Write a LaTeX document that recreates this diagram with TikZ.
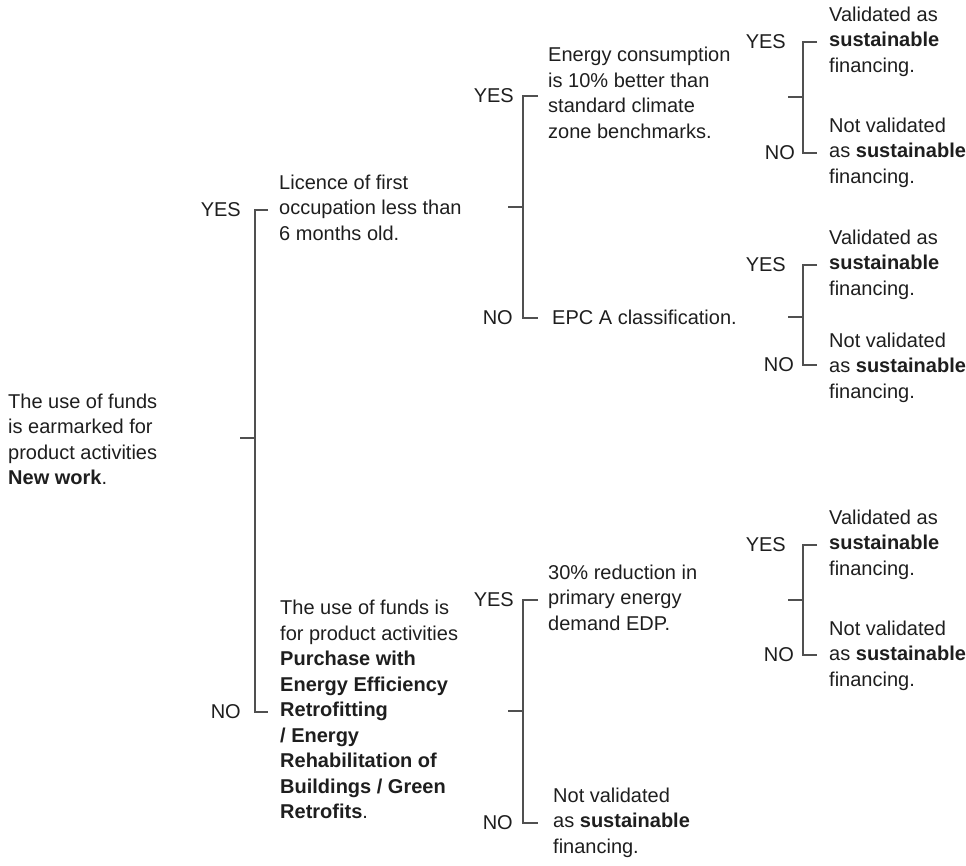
\documentclass[tikz,border=0pt]{standalone}
\usepackage{fontspec}
\setmainfont{Liberation Sans}
\definecolor{ink}{HTML}{1E1E1E}
\definecolor{linec}{HTML}{505050}
\begin{document}
\begin{tikzpicture}[x=1pt,y=-1pt,
  txt/.style={font=\fontsize{20}{25.5}\selectfont, text=ink, inner sep=0pt, align=left, anchor=west,
    execute at begin node=\strut, execute at end node=\strut},
  lab/.style={font=\fontsize{20}{25.5}\selectfont, text=ink, inner sep=0pt, anchor=east},
  conn/.style={draw=linec, line width=1.1pt}]
\useasboundingbox (0,0) rectangle (966,865);

% ---------- bracket coordinates ----------
% root
\coordinate (s0) at (240,438); \coordinate (m0) at (255,438);
\coordinate (t0) at (268,210); \coordinate (b0) at (268,712);
% level 2 top
\coordinate (s1) at (508,207); \coordinate (m1) at (523,207);
\coordinate (t1) at (538,96);  \coordinate (b1) at (538,318);
% level 2 bottom
\coordinate (s2) at (508,711); \coordinate (m2) at (523,711);
\coordinate (t2) at (538,600); \coordinate (b2) at (538,823);
% level 3 top
\coordinate (s3) at (788,97);  \coordinate (m3) at (803,97);
\coordinate (t3) at (817,42);  \coordinate (b3) at (817,153);
% level 3 middle
\coordinate (s4) at (788,317); \coordinate (m4) at (803,317);
\coordinate (t4) at (817,265); \coordinate (b4) at (817,365);
% level 3 bottom
\coordinate (s5) at (788,600); \coordinate (m5) at (803,600);
\coordinate (t5) at (817,545); \coordinate (b5) at (817,655);

\foreach \i in {0,...,5}{
  \draw[conn] (s\i) -- (m\i);
  \draw[conn] (t\i) -| (m\i) |- (b\i);
}

% ---------- labels ----------
\node[lab] (y0) at (241,210) {YES};
\node[lab] (n0) at (241,712) {NO};
\node[lab] (y1) at (514,96)  {YES};
\node[lab] (n1) at (513,318) {NO};
\node[lab] (y2) at (514,600) {YES};
\node[lab] (n2) at (513,823) {NO};
\node[lab] (y3) at (786,42)  {YES};
\node[lab] (n3) at (795,153) {NO};
\node[lab] (y4) at (786,265) {YES};
\node[lab] (n4) at (794,365) {NO};
\node[lab] (y5) at (786,545) {YES};
\node[lab] (n5) at (794,655) {NO};

% ---------- texts ----------
\node[txt] (root) at (8,443) {The use of funds\\is earmarked for\\product activities\\\textbf{New work}.};
\node[txt] (lic) at (279,211.5) {Licence of first\\occupation less than\\6 months old.};
\node[txt] (use) at (280,713.5) {The use of funds is\\for product activities\\\textbf{Purchase with}\\\textbf{Energy Efficiency}\\\textbf{Retrofitting}\\\textbf{/ Energy}\\\textbf{Rehabilitation of}\\\textbf{Buildings / Green}\\\textbf{Retrofits}.};
\node[txt] (ene) at (548,96.5) {Energy consumption\\is 10\% better than\\standard climate\\zone benchmarks.};
\node[txt] (epc) at (552,319.5) {EPC A classification.};
\node[txt] (red) at (548,601.5) {30\% reduction in\\primary energy\\demand EDP.};
\node[txt] (nv2) at (553,824.5) {Not validated\\as \textbf{sustainable}\\financing.};
\node[txt] (v3) at (829,43.5) {Validated as\\\textbf{sustainable}\\financing.};
\node[txt] (nv3) at (829,154.5) {Not validated\\as \textbf{sustainable}\\financing.};
\node[txt] (v4) at (829,266.5) {Validated as\\\textbf{sustainable}\\financing.};
\node[txt] (nv4) at (829,369.5) {Not validated\\as \textbf{sustainable}\\financing.};
\node[txt] (v5) at (829,546.5) {Validated as\\\textbf{sustainable}\\financing.};
\node[txt] (nv5) at (829,657.5) {Not validated\\as \textbf{sustainable}\\financing.};
\end{tikzpicture}
\end{document}
